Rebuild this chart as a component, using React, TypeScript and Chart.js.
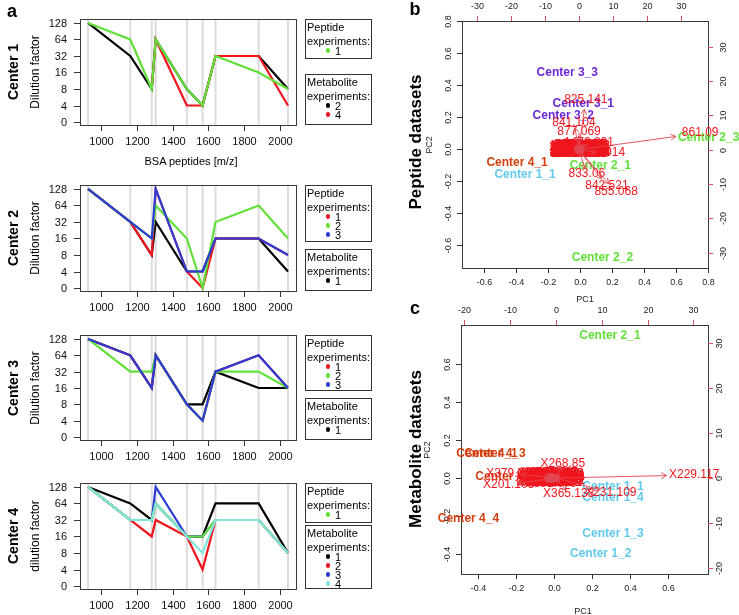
import React, { useEffect, useRef } from "react";
import { Chart, registerables } from "chart.js";

Chart.register(...registerables);

const W = 739;
const H = 615;
const SANS = '"Liberation Sans", Arial, Helvetica, sans-serif';

// ---------------- Panel a: dilution series ----------------
const peptideMz = [927.49, 1163.63, 1283.71, 1305.72, 1479.8, 1567.74, 1639.94, 1880.92, 2045.03];
const dilutionLevels = [0, 4, 8, 16, 32, 64, 128];
const mzTicks = [1000, 1200, 1400, 1600, 1800, 2000];

// Center 1
const c1Met2 = [128, 32, 8, 64, 8, 4, 32, 32, 8];
const c1Met4 = [null, null, 8, 64, 4, 4, 32, 32, 4];
const c1Pep1 = [128, 64, 8, 64, 8, 4, 32, 16, 8];
// Center 2
const c2Met1 = [128, 32, 8, 32, 4, 4, 16, 16, 4];
const c2Pep1 = [128, 32, 8, 128, 4, 0, 16, 16, 8];
const c2Pep2 = [128, 32, 16, 64, 16, 0, 32, 64, 16];
const c2Pep3 = [128, 32, 16, 128, 4, 4, 16, 16, 8];
// Center 3
const c3Met1 = [128, 64, 16, 64, 8, 8, 32, 16, 16];
const c3Pep1 = [128, 64, 16, 64, 8, 4, 32, 64, 16];
const c3Pep2 = [128, 32, 32, 64, 8, 4, 32, 32, 16];
const c3Pep3 = [128, 64, 16, 64, 8, 4, 32, 64, 16];
// Center 4
const c4Met1 = [128, 64, 32, 64, 16, 16, 64, 64, 8];
const c4Met2 = [128, 32, 16, 32, 16, 4, 32, 32, 8];
const c4Met3 = [128, 32, 32, 128, 16, 16, 32, 32, 8];
const c4Pep1 = [128, 32, 32, 64, 16, 16, 32, 32, 8];
const c4Met4 = [128, 32, 32, 64, 16, 8, 32, 32, 8];

const COL = {
  black: "#000000",
  red: "#F0141C",
  green: "#62E03A",
  blue: "#2B3CD6",
  cyan: "#80E6DA",
};

// ---------------- Panel b: peptide biplot ----------------
const pepObsNames = ["Center 3_3", "Center 3_1", "Center 3_2", "Center 2_3", "Center 4_1", "Center 1_1", "Center 2_1", "Center 2_2"];
const pepObsPC1 = [-0.081, 0.019, -0.106, 0.804, -0.395, -0.345, 0.126, 0.139];
const pepObsPC2 = [0.477, 0.283, 0.208, 0.071, -0.086, -0.161, -0.104, -0.679];
const pepObsCenter = [3, 3, 3, 2, 4, 1, 2, 2];

const pepVarNames = [
  "825.141", "841.104", "877.069", "861.09", "842.521", "855.068", "833.06", "1639.914", "1479.801",
  "927.491", "1001.596", "1017.541", "1049.621", "1072.563", "1107.577", "1138.514", "1163.631",
  "1193.602", "1249.621", "1283.711", "1305.716", "1362.675", "1399.692", "1419.699", "1439.812",
  "1455.674", "1491.725", "1511.843", "1532.758", "1554.649", "1578.606", "1595.788", "1618.823",
  "1667.813", "1692.712", "1724.832", "1753.862", "1823.899", "1889.862", "1907.918", "1955.961",
  "2020.979", "2113.127", "2247.040", "2492.254", "2541.127", "847.503", "869.471", "886.466",
  "900.548", "921.518", "1015.401", "1050.493",
  "1011.512", "1083.644", "1119.532", "1177.620", "1211.668", "1231.590", "1267.702", "1327.657",
  "1343.702", "1377.683", "1409.701", "1467.786", "1523.746", "1587.641", "1633.708", "1705.799",
  "1777.841", "1849.851", "1933.917", "2067.004",
];
const pepVarPC1 = [
  2.1, -1.4, 0.1, 35.7, 8.3, 11.0, 2.4, 6.3, 3.0,
  -1.0, 0.2, 1.4, -0.6, 0.8, 1.8, -1.2, 0.0,
  1.2, -0.8, 0.5, 1.6, -1.3, -0.2, 1.0, 1.9,
  -0.9, 0.3, 1.4, -0.4, 0.8, -1.1, 0.6, 1.9,
  -0.3, 1.0, -1.4, 0.0, 1.7, -0.6, 0.7, 1.3,
  -1.0, 0.2, 1.1, -0.1, -1.4, 0.4, 1.5, -0.7,
  0.9, -0.2, 0.5, -1.1,
  -0.5, 0.6, 1.7, -1.5, 0.3, 1.2, -0.9, 0.9,
  -0.1, 1.5, -1.2, 0.1, 1.8, -0.7, 0.5, -0.3,
  1.1, -1.3, 0.8, 1.9,
];
const pepVarPC2 = [
  14.7, 8.0, 5.1, 4.8, -10.6, -12.4, -6.9, -1.0, 1.9,
  1.3, 1.4, 1.2, 0.9, 1.0, 0.8, 0.5, 0.6,
  0.5, 0.1, 0.2, 0.0, -0.3, -0.2, -0.3, -0.5,
  -0.7, -0.6, -0.8, -1.0, -1.1, 1.0, 1.2, 1.1,
  0.3, 0.7, -0.9, -0.9, -0.1, -0.4, -0.1, 0.3,
  0.3, 0.9, -1.2, -1.3, 0.7, -0.3, 1.4, 1.3,
  -0.7, 0.0, 0.6, -0.1,
  0.4, -0.9, 0.6, 0.0, 1.0, -0.5, -1.1, 1.3,
  0.7, -1.1, -0.6, -0.4, 0.3, 0.6, 0.1, -0.6,
  1.0, 1.2, 0.4, -0.9,
];

// ---------------- Panel c: metabolite biplot ----------------
const metObsNames = ["Center 2_1", "Center 4_1", "Center 4_3", "Center 4_2", "Center 4_4", "Center 1_1", "Center 1_4", "Center 1_3", "Center 1_2"];
const metObsPC1 = [0.293, -0.354, -0.312, -0.254, -0.452, 0.309, 0.309, 0.309, 0.244];
const metObsPC2 = [0.747, 0.128, 0.128, 0.004, -0.214, -0.047, -0.103, -0.293, -0.398];
const metObsCenter = [2, 4, 4, 4, 4, 1, 1, 1, 1];

const metVarNames = [
  "X268.85", "X229.117", "X365.133", "X231.109", "X201.103", "X379.071",
  "X215.032", "X217.104", "X243.062", "X255.232", "X259.022", "X281.249", "X283.264", "X293.179",
  "X297.153", "X303.233", "X311.169", "X325.184", "X327.233", "X339.200", "X341.139", "X353.233",
  "X367.158", "X381.079", "X383.152", "X397.134", "X401.200", "X413.266", "X425.284", "X439.190",
  "X447.347", "X465.305", "X480.309", "X496.340", "X512.283", "X524.371", "X540.330", "X568.339",
  "X179.056", "X191.019", "X195.051", "X173.009", "X145.062",
  "X161.045", "X187.097", "X203.082", "X221.045", "X245.077", "X265.148", "X279.232", "X301.217",
  "X319.227", "X333.207", "X355.070", "X371.228", "X391.285", "X409.236", "X459.248",
];
const metVarPC1 = [
  1.5, 30.2, 2.8, 12.0, -10.3, -9.6,
  -2.8, -1.6, -0.4, 0.5, -3.0, -2.0, -0.9, 0.3,
  -2.6, -1.4, -0.3, 0.6, -2.9, -1.8, -0.6, 0.4,
  -2.2, -1.0, 0.1, -3.2, -1.2, -0.1, 0.7, -2.4,
  -1.3, -0.7, -1.9, 0.2, -2.5, -1.5, -0.5, 0.6,
  -2.1, -0.2, -1.1, -2.7, 0.8,
  -1.7, -0.8, 0.3, -2.3, -1.0, 0.0, -2.6, -1.5,
  0.5, -0.4, -3.0, -1.9, -0.9, 0.7, -2.2,
];
const metVarPC2 = [
  3.3, 0.7, -3.4, -3.2, -1.4, 1.0,
  1.0, 1.1, 1.0, 0.9, 0.4, 0.5, 0.6, 0.4,
  -0.2, -0.1, 0.0, -0.2, -0.8, -0.7, -0.6, -0.8,
  -1.1, -1.2, -1.1, 0.0, 0.3, 0.5, 0.1, 0.8,
  0.9, -0.3, 0.1, -0.5, -0.5, -0.4, 0.3, 0.6,
  1.2, -1.0, -0.9, -1.0, -0.6,
  0.3, 1.1, 1.0, -0.3, -0.6, -0.2, 0.5, -1.1,
  -0.9, 0.8, -0.5, 0.9, 0.1, 0.3, -0.9,
];

const scoreTicksB = [-0.6, -0.4, -0.2, 0.0, 0.2, 0.4, 0.6, 0.8];
const loadTicksB = [-30, -20, -10, 0, 10, 20, 30];
const scoreTicksC = [-0.4, -0.2, 0.0, 0.2, 0.4, 0.6];
const loadTicksC = [-20, -10, 0, 10, 20, 30];

const CENTER_COL: Record<number, string> = {
  1: "#62C9EC",
  2: "#62E03A",
  3: "#6A28D8",
  4: "#D4400F",
};

// ---------------- helpers ----------------
function seg(ctx: any, x0: number, y0: number, x1: number, y1: number) {
  ctx.beginPath();
  ctx.moveTo(x0, y0);
  ctx.lineTo(x1, y1);
  ctx.stroke();
}

function drawBox(ctx: any, a: any) {
  ctx.strokeStyle = "#3a3a3a";
  ctx.lineWidth = 1;
  ctx.strokeRect(Math.round(a.left) + 0.5, Math.round(a.top) + 0.5, Math.round(a.right - a.left), Math.round(a.bottom - a.top));
}

function lineConfig(box: any, series: { values: (number | null)[]; color: string }[]) {
  const n = series.length;
  return {
    type: "line",
    data: {
      datasets: series.map((s, i) => ({
        data: peptideMz.map((m, j) => ({
          x: m,
          y: s.values[j] == null ? null : dilutionLevels.indexOf(s.values[j] as number),
        })),
        borderColor: s.color,
        backgroundColor: s.color,
        borderWidth: 2.2,
        pointRadius: 0,
        fill: false,
        tension: 0,
        order: n - i,
      })),
    },
    options: {
      responsive: false,
      animation: false,
      events: [],
      layout: { padding: { left: box.l, top: box.t, right: W - box.r, bottom: H - box.b } },
      scales: {
        x: { type: "linear", display: false, min: 882.8, max: 2089.7 },
        y: { type: "linear", display: false, min: -0.18, max: 6.24 },
      },
      plugins: { legend: { display: false }, tooltip: { enabled: false } },
    },
    plugins: [
      {
        id: "dilutionFrame",
        beforeDatasetsDraw(chart: any) {
          const { ctx, chartArea: a, scales } = chart;
          ctx.save();
          ctx.strokeStyle = "#DCDCDC";
          ctx.lineWidth = 2;
          for (const m of peptideMz) {
            const x = scales.x.getPixelForValue(m);
            seg(ctx, x, a.top, x, a.bottom);
          }
          ctx.restore();
        },
        afterDraw(chart: any) {
          const { ctx, chartArea: a, scales } = chart;
          ctx.save();
          drawBox(ctx, a);
          ctx.strokeStyle = "#333";
          ctx.fillStyle = "#111";
          ctx.font = `11px ${SANS}`;
          ctx.textAlign = "right";
          ctx.textBaseline = "middle";
          dilutionLevels.forEach((lvl, i) => {
            const y = Math.round(scales.y.getPixelForValue(i)) + 0.5;
            seg(ctx, Math.round(a.left) - 6, y, Math.round(a.left), y);
            ctx.fillText(String(lvl), a.left - 13, y);
          });
          ctx.textAlign = "center";
          mzTicks.forEach((v) => {
            const x = Math.round(scales.x.getPixelForValue(v)) + 0.5;
            seg(ctx, x, Math.round(a.bottom), x, Math.round(a.bottom) + 6);
            ctx.fillText(String(v), x, a.bottom + 17);
          });
          ctx.restore();
        },
      },
    ],
  };
}

function biplotConfig(
  box: any,
  ranges: any,
  scoreTicks: number[],
  loadTicks: number[],
  obs: { names: string[]; x: number[]; y: number[]; center: number[] },
  vars: { names: string[]; x: number[]; y: number[] },
  rightGap: number
) {
  return {
    type: "scatter",
    data: {
      datasets: [
        {
          data: obs.x.map((x, i) => ({ x, y: obs.y[i] })),
          xAxisID: "x",
          yAxisID: "y",
          pointRadius: 0,
          textLabels: obs.names,
          textColors: obs.center.map((c) => CENTER_COL[c]),
        },
        {
          data: vars.x.map((x, i) => ({ x, y: vars.y[i] })),
          xAxisID: "x2",
          yAxisID: "y2",
          pointRadius: 0,
          textLabels: vars.names,
        },
      ],
    },
    options: {
      responsive: false,
      animation: false,
      events: [],
      layout: { padding: { left: box.l, top: box.t, right: W - box.r, bottom: H - box.b } },
      scales: {
        x: { type: "linear", display: false, min: ranges.x[0], max: ranges.x[1] },
        y: { type: "linear", display: false, min: ranges.y[0], max: ranges.y[1] },
        x2: { type: "linear", axis: "x", display: false, min: ranges.x2[0], max: ranges.x2[1] },
        y2: { type: "linear", axis: "y", display: false, min: ranges.y2[0], max: ranges.y2[1] },
      },
      plugins: { legend: { display: false }, tooltip: { enabled: false } },
    },
    plugins: [
      {
        id: "biplotDraw",
        afterDraw(chart: any) {
          const { ctx, chartArea: a, scales } = chart;
          ctx.save();
          drawBox(ctx, a);
          ctx.lineWidth = 1;
          ctx.font = `9px ${SANS}`;
          ctx.fillStyle = "#222";
          const L = Math.round(a.left), R = Math.round(a.right), T = Math.round(a.top), B = Math.round(a.bottom);
          // bottom axis (scores)
          ctx.strokeStyle = "#333";
          ctx.textAlign = "center";
          ctx.textBaseline = "middle";
          scoreTicks.forEach((t) => {
            const x = Math.round(scales.x.getPixelForValue(t)) + 0.5;
            seg(ctx, x, B, x, B + 5);
            ctx.fillText(t.toFixed(1), x, B + 15);
          });
          // left axis (scores), rotated labels
          scoreTicks.forEach((t) => {
            const y = Math.round(scales.y.getPixelForValue(t)) + 0.5;
            if (y < T - 1 || y > B + 1) return;
            seg(ctx, L - 5, y, L, y);
            ctx.save();
            ctx.translate(L - 13, y);
            ctx.rotate(-Math.PI / 2);
            ctx.fillText(t.toFixed(1), 0, 0);
            ctx.restore();
          });
          // top axis (loadings), red ticks
          loadTicks.forEach((t) => {
            const x = Math.round(scales.x2.getPixelForValue(t)) + 0.5;
            ctx.strokeStyle = "#E0505A";
            seg(ctx, x, T - 5, x, T);
            ctx.fillText(String(t), x, T - 14);
          });
          // right axis (loadings), red ticks, rotated labels
          loadTicks.forEach((t) => {
            const y = Math.round(scales.y2.getPixelForValue(t)) + 0.5;
            if (y < T - 1 || y > B + 1) return;
            ctx.strokeStyle = "#E0505A";
            seg(ctx, R, y, R + 5, y);
            ctx.save();
            ctx.translate(R + rightGap, y);
            ctx.rotate(-Math.PI / 2);
            ctx.fillText(String(t), 0, 0);
            ctx.restore();
          });

          const [dsObs, dsVar] = chart.data.datasets;
          // observations
          ctx.font = `bold 12px ${SANS}`;
          dsObs.data.forEach((p: any, i: number) => {
            ctx.fillStyle = dsObs.textColors[i];
            ctx.fillText(dsObs.textLabels[i], scales.x.getPixelForValue(p.x), scales.y.getPixelForValue(p.y));
          });
          // variables
          ctx.font = `12px ${SANS}`;
          ctx.fillStyle = "#F0161E";
          dsVar.data.forEach((p: any, i: number) => {
            ctx.fillText(dsVar.textLabels[i], scales.x2.getPixelForValue(p.x), scales.y2.getPixelForValue(p.y));
          });
          // arrows to 0.8 * loadings
          ctx.strokeStyle = "rgba(225,70,80,0.9)";
          ctx.lineWidth = 1;
          const ox = scales.x2.getPixelForValue(0);
          const oy = scales.y2.getPixelForValue(0);
          dsVar.data.forEach((p: any) => {
            const x1 = scales.x2.getPixelForValue(p.x * 0.8);
            const y1 = scales.y2.getPixelForValue(p.y * 0.8);
            const ang = Math.atan2(y1 - oy, x1 - ox);
            const len = 6;
            ctx.beginPath();
            ctx.moveTo(ox, oy);
            ctx.lineTo(x1, y1);
            ctx.moveTo(x1, y1);
            ctx.lineTo(x1 - len * Math.cos(ang - Math.PI / 6), y1 - len * Math.sin(ang - Math.PI / 6));
            ctx.moveTo(x1, y1);
            ctx.lineTo(x1 - len * Math.cos(ang + Math.PI / 6), y1 - len * Math.sin(ang + Math.PI / 6));
            ctx.stroke();
          });
          ctx.restore();
        },
      },
    ],
  };
}

// ---------------- components ----------------
function ChartLayer({ make }: { make: () => any }) {
  const ref = useRef<HTMLCanvasElement>(null);
  useEffect(() => {
    const chart = new Chart(ref.current as HTMLCanvasElement, make());
    return () => chart.destroy();
  }, []);
  return (
    <canvas
      ref={ref}
      width={W}
      height={H}
      style={{ position: "absolute", left: 0, top: 0, width: W, height: H }}
    />
  );
}

function Txt({ x, y, text, size, bold, rot, color, align }: any) {
  const tx = align === "left" ? "0" : "-50%";
  return (
    <div
      style={{
        position: "absolute",
        left: x,
        top: y,
        transform: `translate(${tx},-50%)${rot ? " rotate(-90deg)" : ""}`,
        font: `${bold ? "bold " : ""}${size}px ${SANS}`,
        lineHeight: 1,
        whiteSpace: "nowrap",
        color: color || "#000",
      }}
    >
      {text}
    </div>
  );
}

function LegendBox({ top, bottom, title, items }: any) {
  return (
    <>
      <div
        style={{
          position: "absolute",
          left: 305,
          top,
          width: 67,
          height: bottom - top,
          border: "1px solid #333",
          boxSizing: "border-box",
        }}
      />
      <Txt x={307} y={top + 8} text={title} size={11} align="left" />
      <Txt x={307} y={top + 21.5} text="experiments:" size={11} align="left" />
      {items.map((it: any, i: number) => (
        <React.Fragment key={i}>
          <div
            style={{
              position: "absolute",
              left: 326,
              top: top + 31.5 + i * 9 - 2.2,
              width: 4.4,
              height: 4.4,
              borderRadius: "50%",
              background: it.color,
            }}
          />
          <Txt x={335} y={top + 31.5 + i * 9} text={it.label} size={11} align="left" />
        </React.Fragment>
      ))}
    </>
  );
}

const panels = [
  {
    name: "Center 1",
    ytitle: "Dilution factor",
    box: { l: 80, r: 296, t: 19, b: 125 },
    series: [
      { values: c1Met2, color: COL.black },
      { values: c1Met4, color: COL.red },
      { values: c1Pep1, color: COL.green },
    ],
    pep: { top: 19, bottom: 59, items: [{ label: "1", color: COL.green }] },
    met: { top: 74, bottom: 125, items: [{ label: "2", color: COL.black }, { label: "4", color: COL.red }] },
  },
  {
    name: "Center 2",
    ytitle: "Dilution factor",
    box: { l: 80, r: 296, t: 185, b: 291 },
    series: [
      { values: c2Met1, color: COL.black },
      { values: c2Pep1, color: COL.red },
      { values: c2Pep2, color: COL.green },
      { values: c2Pep3, color: COL.blue },
    ],
    pep: {
      top: 185,
      bottom: 242,
      items: [
        { label: "1", color: COL.red },
        { label: "2", color: COL.green },
        { label: "3", color: COL.blue },
      ],
    },
    met: { top: 249, bottom: 291, items: [{ label: "1", color: COL.black }] },
  },
  {
    name: "Center 3",
    ytitle: "Dilution factor",
    box: { l: 80, r: 296, t: 335, b: 440 },
    series: [
      { values: c3Met1, color: COL.black },
      { values: c3Pep1, color: COL.red },
      { values: c3Pep2, color: COL.green },
      { values: c3Pep3, color: COL.blue },
    ],
    pep: {
      top: 335,
      bottom: 391,
      items: [
        { label: "1", color: COL.red },
        { label: "2", color: COL.green },
        { label: "3", color: COL.blue },
      ],
    },
    met: { top: 398, bottom: 440, items: [{ label: "1", color: COL.black }] },
  },
  {
    name: "Center 4",
    ytitle: "dilution factor",
    box: { l: 80, r: 296, t: 483, b: 589 },
    series: [
      { values: c4Met1, color: COL.black },
      { values: c4Met2, color: COL.red },
      { values: c4Met3, color: COL.blue },
      { values: c4Pep1, color: COL.green },
      { values: c4Met4, color: COL.cyan },
    ],
    pep: { top: 483, bottom: 523, items: [{ label: "1", color: COL.green }] },
    met: {
      top: 525,
      bottom: 589,
      items: [
        { label: "1", color: COL.black },
        { label: "2", color: COL.red },
        { label: "3", color: COL.blue },
        { label: "4", color: COL.cyan },
      ],
    },
  },
];

export default function App() {
  return (
    <div
      style={{
        position: "absolute",
        left: 0,
        top: 0,
        width: W,
        height: H,
        background: "#fff",
        overflow: "hidden",
        fontFamily: SANS,
      }}
    >
      {panels.map((p, i) => (
        <React.Fragment key={i}>
          <ChartLayer make={() => lineConfig(p.box, p.series)} />
          <Txt x={12.5} y={(p.box.t + p.box.b) / 2} text={p.name} size={14} bold rot />
          <Txt x={35} y={(p.box.t + p.box.b) / 2} text={p.ytitle} size={12} rot />
          <LegendBox top={p.pep.top} bottom={p.pep.bottom} title="Peptide" items={p.pep.items} />
          <LegendBox top={p.met.top} bottom={p.met.bottom} title="Metabolite" items={p.met.items} />
        </React.Fragment>
      ))}
      <Txt x={191} y={161} text="BSA peptides [m/z]" size={11} />

      <ChartLayer
        make={() =>
          biplotConfig(
            { l: 462, r: 708, t: 21, b: 268 },
            { x: [-0.74, 0.8], y: [-0.742, 0.8], x2: [-34.3, 38.0], y2: [-34.5, 37.5] },
            scoreTicksB,
            loadTicksB,
            { names: pepObsNames, x: pepObsPC1, y: pepObsPC2, center: pepObsCenter },
            { names: pepVarNames, x: pepVarPC1, y: pepVarPC2 },
            16
          )
        }
      />
      <ChartLayer
        make={() =>
          biplotConfig(
            { l: 461, r: 708, t: 325, b: 574 },
            { x: [-0.491, 0.809], y: [-0.507, 0.804], x2: [-20.7, 33.2], y2: [-21.3, 34.0] },
            scoreTicksC,
            loadTicksC,
            { names: metObsNames, x: metObsPC1, y: metObsPC2, center: metObsCenter },
            { names: metVarNames, x: metVarPC1, y: metVarPC2 },
            12
          )
        }
      />

      <Txt x={12} y={11} text="a" size={18} bold />
      <Txt x={415} y={9} text="b" size={18} bold />
      <Txt x={415} y={308} text="c" size={18} bold />
      <Txt x={415} y={142} text="Peptide datasets" size={17} bold rot />
      <Txt x={415} y={449} text="Metabolite datasets" size={17} bold rot />
      <Txt x={429} y={145} text="PC2" size={9} rot color="#222" />
      <Txt x={427} y={450} text="PC2" size={9} rot color="#222" />
      <Txt x={585} y={299} text="PC1" size={9} color="#222" />
      <Txt x={583} y={611} text="PC1" size={9} color="#222" />
    </div>
  );
}
